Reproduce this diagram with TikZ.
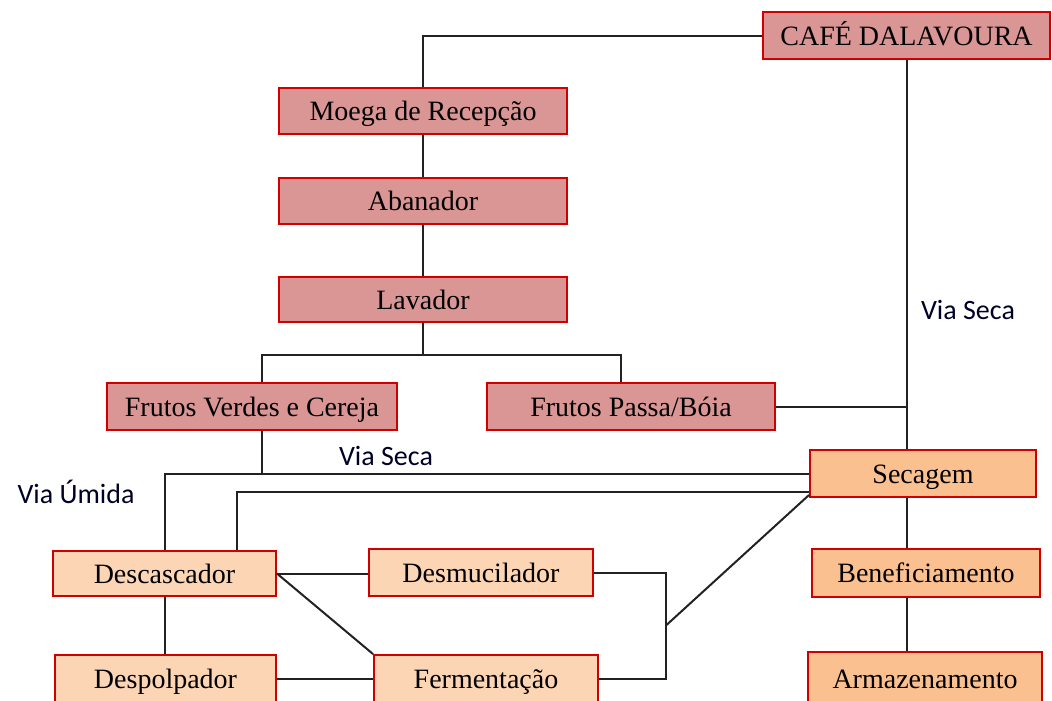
\documentclass[tikz,border=0pt]{standalone}
\usepackage{fontspec}
\setmainfont{Liberation Serif}
\newfontfamily\labelfont{Carlito}
\usetikzlibrary{calc}

\definecolor{boxred}{HTML}{D00000}
\definecolor{pinkfill}{HTML}{D99694}
\definecolor{peachfill}{HTML}{FCD5B5}
\definecolor{orangefill}{HTML}{FAC090}
\definecolor{wire}{HTML}{222222}

\tikzset{
  stagebox/.style={draw=boxred, line width=1.4pt, rectangle, inner sep=0pt,
    font=\fontsize{21}{24}\selectfont, text height=14.4pt, text depth=0pt},
  boxsize/.style 2 args={minimum width=#1*0.75pt, minimum height=#2*0.75pt},
  pinkbox/.style={stagebox, fill=pinkfill},
  peachbox/.style={stagebox, fill=peachfill},
  orangebox/.style={stagebox, fill=orangefill},
  wirestyle/.style={draw=wire, line width=1.5pt},
  routelabel/.style={font=\labelfont\fontsize{21}{24}\selectfont, text=black!85!blue, inner sep=0pt}
}

\begin{document}
\begin{tikzpicture}[x=0.75pt, y=-0.75pt]
  \useasboundingbox (0,0) rectangle (1052,700);
  \clip (0,0) rectangle (1052,700);

  % reception line
  \node[pinkbox, boxsize={287}{47}] (cafe) at (906.5,35.5) {CAFÉ DALAVOURA};
  \node[pinkbox, boxsize={288}{46}] (moega) at (423,111) {Moega de Recepção};
  \node[pinkbox, boxsize={288}{46}] (abanador) at (423,201) {Abanador};
  \node[pinkbox, boxsize={288}{45}] (lavador) at (423,299.5) {Lavador};
  \node[pinkbox, boxsize={290}{47}] (fverdes) at (252,406.5) {Frutos Verdes e Cereja};
  \node[pinkbox, boxsize={288}{47}] (fpassa) at (631,406.5) {Frutos Passa/Bóia};

  % dry line
  \node[orangebox, boxsize={226}{47}] (secagem) at (923,473.5) {Secagem};
  \node[orangebox, boxsize={228}{48}] (benef) at (926,573) {Beneficiamento};
  \node[orangebox, boxsize={234}{53}] (armaz) at (925,678.5) {Armazenamento};

  % wet line
  \node[peachbox, boxsize={223}{45}] (descasc) at (164.5,573.5) {Descascador};
  \node[peachbox, boxsize={224}{47}] (desmuc) at (481,572.5) {Desmucilador};
  \node[peachbox, boxsize={221}{47}] (despolp) at (165.5,678.5) {Despolpador};
  \node[peachbox, boxsize={224}{47}] (ferment) at (486,678.5) {Fermentação};

  % route labels
  \node[routelabel] (lblseca1) at (968,310) {Via Seca};
  \node[routelabel] (lblseca2) at (386,456) {Via Seca};
  \node[routelabel] (lblumida) at (76,492) {Via Úmida};

  % junction points
  \coordinate (split) at ($(lavador.south)+(0,32)$);
  \coordinate (mjoin) at ($(desmuc.east)+(72,53)$);

  % connectors
  \draw[wirestyle] (cafe.west) -| (moega.north);
  \draw[wirestyle] (moega.south) -- (abanador.north);
  \draw[wirestyle] (abanador.south) -- (lavador.north);
  \draw[wirestyle] (lavador.south) -- (split);
  \draw[wirestyle] ($(fverdes.north)+(10,0)$) |- (split) -| ($(fpassa.north)+(-10,0)$);
  \draw[wirestyle] (cafe.south) -- (cafe.south |- secagem.north);
  \draw[wirestyle] (fpassa.east) -- (fpassa.east -| cafe.south);
  \draw[wirestyle] ($(fverdes.south)+(10,0)$) |- (secagem.west);
  \draw[wirestyle] (secagem.west) -| (descasc.north);
  \draw[wirestyle] ($(secagem.south west)+(0,-6)$) -| ($(descasc.north)+(72.5,0)$);
  \draw[wirestyle] (descasc.east) -- (descasc.east -| desmuc.west);
  \draw[wirestyle] (descasc.east) -- (ferment.north west);
  \draw[wirestyle] (descasc.south) -- (descasc.south |- despolp.north);
  \draw[wirestyle] (despolp.east) -- (ferment.west);
  \draw[wirestyle] (desmuc.east) -| (mjoin) |- (ferment.east);
  \draw[wirestyle] (mjoin) -- ($(secagem.south west)+(0,-3)$);
  \draw[wirestyle] (cafe.south |- secagem.south) -- (cafe.south |- benef.north);
  \draw[wirestyle] (cafe.south |- benef.south) -- (cafe.south |- armaz.north);
\end{tikzpicture}
\end{document}
